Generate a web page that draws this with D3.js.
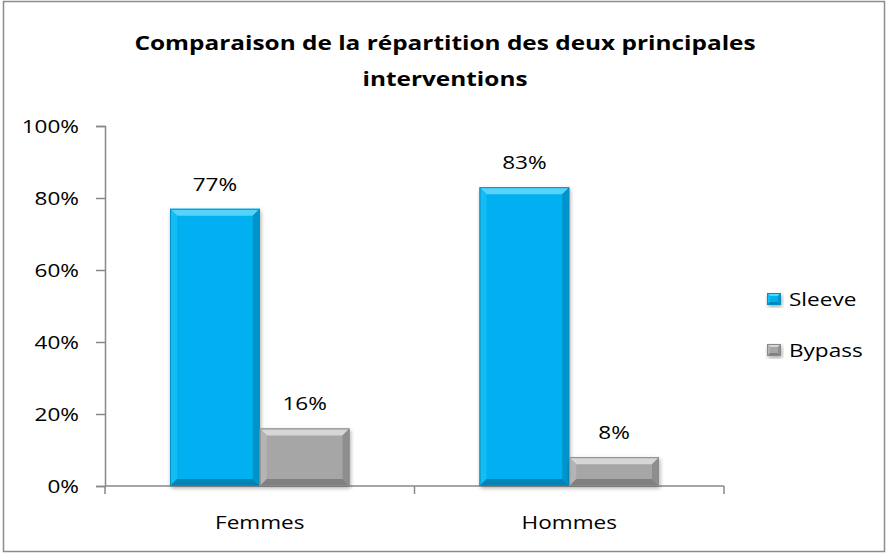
<!DOCTYPE html>
<html><head><meta charset="utf-8">
<script src="https://cdn.jsdelivr.net/npm/d3@7"></script>
<style>body{margin:0;background:#fff}svg{display:block}text{font-family:"Open Sans",sans-serif;fill:#000}</style>
</head><body><svg id="c" width="888" height="553"></svg>
<script>
const categories = ["Femmes", "Hommes"];
const series = ["Sleeve", "Bypass"];
const sleeveValues = [0.77, 0.83];
const bypassValues = [0.16, 0.08];
const yTicks = [0, 0.2, 0.4, 0.6, 0.8, 1.0];
const title = ["Comparaison de la répartition des deux principales", "interventions"];

const colors = {
  Sleeve: {base:"#00B0F0", top:"#55D4FB", left:"#14BCF4", right:"#0094CA", bottom:"#0084B6", edge:"#0090C4"},
  Bypass: {base:"#A6A6A6", top:"#D6D6D6", left:"#B4B4B4", right:"#8E8E8E", bottom:"#808080", edge:"#8A8A8A"}
};
const values = {Sleeve: sleeveValues, Bypass: bypassValues};
const SX = 1.22; // horizontal text stretch of the source image
const FS = 18.5;

const svg = d3.select("#c");
svg.append("rect").attr("x",3.5).attr("y",1.5).attr("width",881).attr("height",550)
  .attr("fill","#fff").attr("stroke","#8c8c8c").attr("stroke-width",1.5);

const plot = {left:105, right:724, top:126, bottom:486};
const y = d3.scaleLinear().domain([0,1]).range([plot.bottom, plot.top]);
const x0 = d3.scaleBand().domain(categories).range([plot.left, plot.right]).paddingInner(0.42).paddingOuter(0.21);
const x1 = d3.scaleBand().domain(series).range([0, x0.bandwidth()]);

function stretch(sel){
  sel.each(function(){
    const e = d3.select(this);
    const x = +(e.attr("x")||0), yy = +(e.attr("y")||0);
    e.attr("x",0).attr("y",0).attr("transform",`translate(${x},${yy}) scale(${SX},1)`);
  });
}

// title
title.forEach((l,i)=> svg.append("text").attr("class","t").attr("x",445).attr("y",50+i*36)
  .attr("text-anchor","middle").attr("font-weight","bold").attr("font-size",20).text(l));

// y axis
const yAxis = d3.axisLeft(y).tickValues(yTicks).tickFormat(d3.format(".0%")).tickSize(9).tickPadding(17);
const ga = svg.append("g").attr("transform",`translate(${plot.left},0)`).call(yAxis);
ga.select(".domain").attr("stroke","#888").attr("stroke-width",1.5);
ga.selectAll(".tick line").attr("stroke","#888").attr("stroke-width",1.5);
ga.selectAll(".tick text").attr("font-size",FS).attr("font-family","'Open Sans',sans-serif").attr("fill","#000").attr("dy","0.36em");

// x axis
const xg = svg.append("g");
xg.append("line").attr("x1",plot.left).attr("x2",plot.right).attr("y1",y(0)).attr("y2",y(0)).attr("stroke","#888").attr("stroke-width",1.5);
const bounds = [plot.left, ...categories.map(c=>x0(c)+x0.bandwidth()+x0.step()*0.21)];
bounds.forEach(b=> xg.append("line").attr("x1",b).attr("x2",b).attr("y1",y(0)).attr("y2",y(0)+8).attr("stroke","#888").attr("stroke-width",1.5));
categories.forEach(c=> xg.append("text").attr("x",x0(c)+x0.bandwidth()/2).attr("y",529).attr("text-anchor","middle").attr("font-size",FS).text(c));

// shadow filter
const defs = svg.append("defs");
const f = defs.append("filter").attr("id","sh").attr("x","-20%").attr("y","-20%").attr("width","140%").attr("height","140%");
f.append("feGaussianBlur").attr("in","SourceAlpha").attr("stdDeviation",2);
f.append("feOffset").attr("dx",1).attr("dy",2).attr("result","b");
f.append("feComponentTransfer").append("feFuncA").attr("type","linear").attr("slope",0.35);
const m = f.append("feMerge"); m.append("feMergeNode"); m.append("feMergeNode").attr("in","SourceGraphic");

function bevel(g, bx, by, w, h, c, b){
  g.append("rect").attr("x",bx).attr("y",by).attr("width",w).attr("height",h).attr("fill",c.base).attr("filter","url(#sh)");
  const P = pts=>pts.map(p=>p.join(",")).join(" ");
  g.append("polygon").attr("points",P([[bx,by],[bx+w,by],[bx+w-b,by+b],[bx+b,by+b]])).attr("fill",c.top);
  g.append("polygon").attr("points",P([[bx,by],[bx+b,by+b],[bx+b,by+h-b],[bx,by+h]])).attr("fill",c.left);
  g.append("polygon").attr("points",P([[bx+w,by],[bx+w,by+h],[bx+w-b,by+h-b],[bx+w-b,by+b]])).attr("fill",c.right);
  g.append("polygon").attr("points",P([[bx,by+h],[bx+w,by+h],[bx+w-b,by+h-b],[bx+b,by+h-b]])).attr("fill",c.bottom);
  g.append("rect").attr("x",bx+0.5).attr("y",by+0.5).attr("width",w-1).attr("height",h-1).attr("fill","none").attr("stroke",c.edge).attr("stroke-width",1);
}

const bars = svg.append("g");
categories.forEach((cat,i)=>{
  series.forEach(s=>{
    const v = values[s][i];
    const bx = x0(cat)+x1(s), w = x1.bandwidth(), by = y(v), h = y(0)-y(v);
    bevel(bars.append("g"), bx, by, w, h, colors[s], Math.min(7, h/2.5));
    svg.append("text").attr("x",bx+w/2).attr("y",by-18).attr("text-anchor","middle").attr("font-size",FS).text(d3.format(".0%")(v));
  });
});

// legend
const lg = svg.append("g");
series.forEach((s,i)=>{
  const ly = 299 + i*51;
  bevel(lg.append("g"), 767, ly-6, 14, 12, colors[s], 3);
  lg.append("text").attr("x",789).attr("y",ly+7).attr("font-size",FS).text(s);
});

stretch(svg.selectAll("text"));
</script></body></html>
